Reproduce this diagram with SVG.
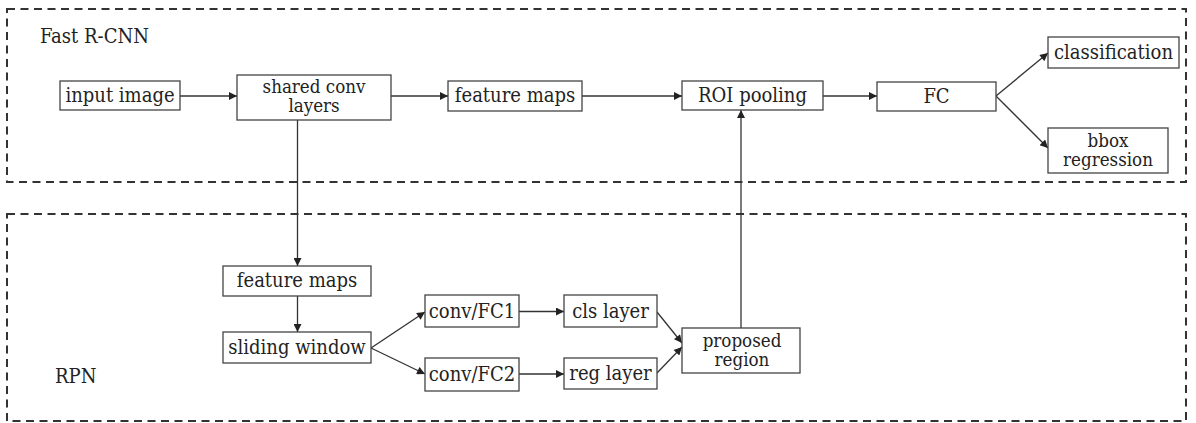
<svg xmlns="http://www.w3.org/2000/svg" width="1196" height="423" viewBox="0 0 1196 423">
<style>
.bg{fill:#fff}
.region{fill:none;stroke:#333;stroke-width:2;stroke-dasharray:8 5.5}
.box{fill:#fff;stroke:#444;stroke-width:1.3}
.t,.lbl{font-family:"DejaVu Serif Condensed","DejaVu Serif","Liberation Serif",serif;font-stretch:condensed;font-size:20px;fill:#222}
.t{text-anchor:middle}
.t2{font-size:18.6px}
.c{fill:none;stroke:#333;stroke-width:1.3}
</style>
<defs>
<marker id="ah" viewBox="0 0 10 10" refX="10" refY="5" markerWidth="9" markerHeight="8" markerUnits="userSpaceOnUse" orient="auto">
<path d="M0,0 L10,5 L0,10 Z" fill="#222"/>
</marker>
</defs>
<rect class="bg" x="0" y="0" width="1196" height="423"/>
<g id="fast-rcnn-region">
<rect class="region" x="7" y="9" width="1179" height="173"/>
<text class="lbl" x="40" y="43">Fast R-CNN</text>
</g>
<g id="rpn-region">
<rect class="region" x="7" y="214" width="1179" height="207"/>
<text class="lbl" x="55" y="383">RPN</text>
</g>
<g id="connectors">
<line class="c" x1="180" y1="96" x2="237" y2="96" marker-end="url(#ah)"/>
<line class="c" x1="391" y1="96" x2="448" y2="96" marker-end="url(#ah)"/>
<line class="c" x1="582" y1="96" x2="682" y2="96" marker-end="url(#ah)"/>
<line class="c" x1="823" y1="96" x2="877" y2="96" marker-end="url(#ah)"/>
<line class="c" x1="996" y1="96" x2="1048" y2="53" marker-end="url(#ah)"/>
<line class="c" x1="996" y1="96" x2="1048" y2="148" marker-end="url(#ah)"/>
<line class="c" x1="297.5" y1="120" x2="297.5" y2="266" marker-end="url(#ah)"/>
<line class="c" x1="297.5" y1="296" x2="297.5" y2="332" marker-end="url(#ah)"/>
<line class="c" x1="371" y1="348" x2="425" y2="312" marker-end="url(#ah)"/>
<line class="c" x1="371" y1="348" x2="425" y2="374" marker-end="url(#ah)"/>
<line class="c" x1="519" y1="311.5" x2="564" y2="311.5" marker-end="url(#ah)"/>
<line class="c" x1="519" y1="374" x2="564" y2="374" marker-end="url(#ah)"/>
<line class="c" x1="657" y1="312" x2="682" y2="343" marker-end="url(#ah)"/>
<line class="c" x1="657" y1="373" x2="682" y2="347" marker-end="url(#ah)"/>
<line class="c" x1="741" y1="328" x2="741" y2="110" marker-end="url(#ah)"/>
</g>
<g id="input-image">
<rect class="box" x="60" y="81" width="120" height="29"/>
<text class="t" x="120" y="101.5">input image</text>
</g>
<g id="shared-conv">
<rect class="box" x="237" y="75" width="154" height="45"/>
<text class="t t2" x="314" y="92.5">shared conv</text>
<text class="t t2" x="314" y="111.7">layers</text>
</g>
<g id="feature-maps-top">
<rect class="box" x="448" y="81" width="134" height="30"/>
<text class="t" x="515" y="101.5">feature maps</text>
</g>
<g id="roi-pooling">
<rect class="box" x="682" y="81" width="141" height="29"/>
<text class="t" x="752.5" y="101.5">ROI pooling</text>
</g>
<g id="fc">
<rect class="box" x="877" y="82" width="119" height="29"/>
<text class="t" x="936.5" y="102.5">FC</text>
</g>
<g id="classification">
<rect class="box" x="1048" y="37" width="131" height="31"/>
<text class="t" x="1113.5" y="58.5">classification</text>
</g>
<g id="bbox-regression">
<rect class="box" x="1048" y="128" width="120" height="45"/>
<text class="t t2" x="1108" y="146.5">bbox</text>
<text class="t t2" x="1108" y="165.7">regression</text>
</g>
<g id="feature-maps-rpn">
<rect class="box" x="223" y="266" width="148" height="30"/>
<text class="t" x="297" y="286.5">feature maps</text>
</g>
<g id="sliding-window">
<rect class="box" x="223" y="332" width="148" height="31"/>
<text class="t" x="297" y="353.5">sliding window</text>
</g>
<g id="conv-fc1">
<rect class="box" x="425" y="295" width="94" height="32"/>
<text class="t" x="472" y="317.5">conv/FC1</text>
</g>
<g id="conv-fc2">
<rect class="box" x="425" y="358" width="94" height="33"/>
<text class="t" x="472" y="380.5">conv/FC2</text>
</g>
<g id="cls-layer">
<rect class="box" x="564" y="295" width="93" height="32"/>
<text class="t" x="610.5" y="317.5">cls layer</text>
</g>
<g id="reg-layer">
<rect class="box" x="564" y="358" width="93" height="31"/>
<text class="t" x="610.5" y="379.5">reg layer</text>
</g>
<g id="proposed-region">
<rect class="box" x="682" y="328" width="118" height="45"/>
<text class="t t2" x="742" y="346.5">proposed</text>
<text class="t t2" x="742" y="365.7">region</text>
</g>
</svg>
